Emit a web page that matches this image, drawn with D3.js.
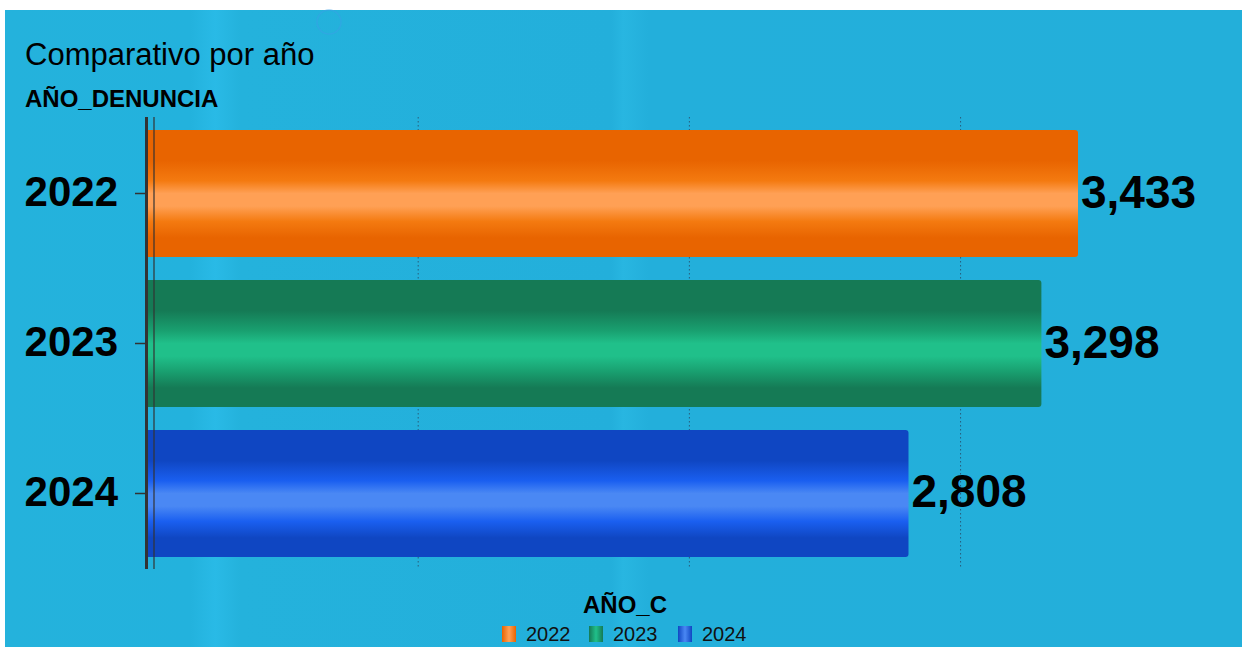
<!DOCTYPE html>
<html><head><meta charset="utf-8">
<script src="https://cdn.jsdelivr.net/npm/d3@7"></script>
<style>html,body{margin:0;padding:0;background:#fff;}svg{display:block;}</style>
</head><body>
<script>
const categories = ["2022", "2023", "2024"];
const values = [3433, 3298, 2808];
const gridTicks = [1000, 2000, 3000];
const legendLabels = ["2022", "2023", "2024"];
const palettes = [
  ["#e86400", "#f47a10", "#ffa055", "#e86400"],
  ["#157a55", "#19a070", "#20c08a", "#157a55"],
  ["#0f46c2", "#1a5ff0", "#4a88f4", "#0f46c2"]
];

const W = 1242, H = 649;
const FONT = "Liberation Sans, Arial, sans-serif";
const svg = d3.select("body").append("svg").attr("width", W).attr("height", H);
const defs = svg.append("defs");

// background
const bg = defs.append("linearGradient").attr("id", "bg").attr("x1", 0).attr("x2", 1).attr("y1", 0).attr("y2", 0);
[[0, "#24b2dc"], [0.15, "#23b2dd"], [0.17, "#29bae6"], [0.19, "#24b2dc"], [0.49, "#23afdb"], [0.5, "#28b6e1"], [0.52, "#23afdb"], [1, "#23afda"]]
  .forEach(([o, c]) => bg.append("stop").attr("offset", o).attr("stop-color", c));
svg.append("rect").attr("x", 5).attr("y", 10).attr("width", W - 5).attr("height", H - 12).attr("fill", "url(#bg)");
svg.append("circle").attr("cx", 329).attr("cy", 22).attr("r", 12).attr("fill", "none").attr("stroke", "#3aa0e8").attr("stroke-opacity", 0.5).attr("stroke-width", 1.5);

// bar gradients
palettes.forEach((p, i) => {
  const g = defs.append("linearGradient").attr("id", "bar" + i).attr("x1", 0).attr("x2", 0).attr("y1", 0).attr("y2", 1);
  [[0, p[0]], [0.24, p[0]], [0.4, p[1]], [0.5, p[2]], [0.6, p[2]], [0.72, p[1]], [0.85, p[0]], [1, p[0]]]
    .forEach(([o, c]) => g.append("stop").attr("offset", o).attr("stop-color", c));
});

const x0 = 147;
const x = d3.scaleLinear().domain([0, 3433]).range([x0, 1078]);
const y = d3.scaleBand().domain(categories).range([117, 570]).paddingInner(0.1533).paddingOuter(0.0867);

// grid
svg.append("g").selectAll("line").data(gridTicks).join("line")
  .attr("x1", d => x(d)).attr("x2", d => x(d)).attr("y1", 117).attr("y2", 568)
  .attr("stroke", "#2a4a66").attr("stroke-width", 1).attr("stroke-dasharray", "1.5,2.5").attr("opacity", 0.8);

// bars
const data = categories.map((c, i) => ({ c, v: values[i], i }));
svg.append("g").selectAll("path").data(data).join("path")
  .attr("d", d => {
    const x1 = x0, x2 = x(d.v), yt = y(d.c), yb = y(d.c) + y.bandwidth(), r = 3;
    return `M${x1},${yt}H${x2 - r}Q${x2},${yt} ${x2},${yt + r}V${yb - r}Q${x2},${yb} ${x2 - r},${yb}H${x1}Z`;
  })
  .attr("fill", d => `url(#bar${d.i})`);

// value labels
svg.append("g").selectAll("text").data(data).join("text")
  .attr("x", d => x(d.v) + 3).attr("y", d => y(d.c) + y.bandwidth() / 2 + 14)
  .attr("font-family", FONT).attr("font-weight", "bold").attr("font-size", 46)
  .attr("fill", "#000").text(d => d3.format(",")(d.v));

// y axis
const ya = svg.append("g").attr("transform", `translate(${x0 - 1},0)`)
  .call(d3.axisLeft(y).tickSize(11).tickPadding(17));
ya.select(".domain").remove();
ya.selectAll(".tick line").attr("stroke", "#333").attr("stroke-width", 1.5);
ya.selectAll(".tick text").attr("font-family", FONT).attr("font-weight", "bold")
  .attr("font-size", 42).attr("fill", "#000").attr("dy", "0.3em");
svg.append("line").attr("x1", 146.5).attr("x2", 146.5).attr("y1", 117).attr("y2", 569).attr("stroke", "#333").attr("stroke-width", 3);
svg.append("line").attr("x1", 154).attr("x2", 154).attr("y1", 117).attr("y2", 569).attr("stroke", "#333").attr("stroke-width", 1.2);

// titles
svg.append("text").attr("x", 25).attr("y", 65).attr("font-family", FONT)
  .attr("font-size", 31).attr("fill", "#000").text("Comparativo por año");
svg.append("text").attr("x", 25).attr("y", 107).attr("font-family", FONT)
  .attr("font-weight", "bold").attr("font-size", 24).attr("fill", "#000").text("AÑO_DENUNCIA");

// legend
svg.append("text").attr("x", 625).attr("y", 613).attr("text-anchor", "middle").attr("font-family", FONT)
  .attr("font-weight", "bold").attr("font-size", 24).attr("fill", "#000").text("AÑO_C");
const legX = [502, 589, 678];
palettes.forEach((p, i) => {
  const g = defs.append("linearGradient").attr("id", "leg" + i).attr("x1", 0).attr("x2", 1).attr("y1", 0).attr("y2", 0);
  [[0, p[0]], [0.5, p[2]], [1, p[0]]].forEach(([o, c]) => g.append("stop").attr("offset", o).attr("stop-color", c));
});
const lg = svg.append("g").selectAll("g").data(legendLabels).join("g").attr("transform", (d, i) => `translate(${legX[i]},626)`);
lg.append("rect").attr("width", 14).attr("height", 16).attr("fill", (d, i) => `url(#leg${i})`);
lg.append("text").attr("x", 24).attr("y", 15).attr("font-family", FONT)
  .attr("font-size", 20).attr("fill", "#111").text(d => d);
</script>
</body></html>
